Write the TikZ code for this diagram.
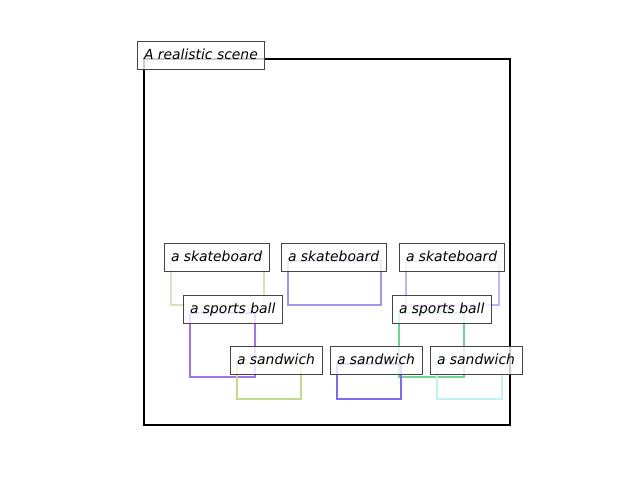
\documentclass[tikz,border=0pt]{standalone}
\usepackage{fontspec}
\setmainfont{DejaVu Sans}
\definecolor{cskA}{HTML}{E2DCBE}
\definecolor{cskB}{HTML}{A595E8}
\definecolor{cskC}{HTML}{C3B2F5}
\definecolor{csbA}{HTML}{A374E6}
\definecolor{csbB}{HTML}{6ED68C}
\definecolor{cswA}{HTML}{C3D98F}
\definecolor{cswB}{HTML}{7F6BF0}
\definecolor{cswC}{HTML}{BFF3F3}
\definecolor{lbledge}{HTML}{444444}
\tikzset{
  bbox/.style={line width=2pt},
  lbl/.style={anchor=text, draw=lbledge, line width=1pt, fill=white, fill opacity=0.8, text opacity=1,
    inner sep=7pt, text height=11pt, text depth=3pt, font=\fontsize{13.9}{16}\selectfont\itshape},
}
\begin{document}
\begin{tikzpicture}[x=1pt,y=-1pt]
\useasboundingbox (0,0) rectangle (640,480);
\draw[line width=2pt] (144,59) rectangle (510,425);
% boxes
\draw[bbox,cskA] (171,261) rectangle (264,305);
\draw[bbox,cskB] (288,261) rectangle (381,305);
\draw[bbox,cskC] (406,261) rectangle (499,305);
\draw[bbox,csbA] (190,313) rectangle (255,377);
\draw[bbox,csbB] (399,313) rectangle (464,377);
\draw[bbox,cswA] (237,364) rectangle (301,399);
\draw[bbox,cswB] (337,364) rectangle (401,399);
\draw[bbox,cswC] (437,364) rectangle (502,399);
% labels
\node[lbl] (title) at (144,59) {A realistic scene};
\node[lbl] (skA) at (171,261) {a skateboard};
\node[lbl] (skB) at (288,261) {a skateboard};
\node[lbl] (skC) at (406,261) {a skateboard};
\node[lbl] (sbA) at (190,313) {a sports ball};
\node[lbl] (sbB) at (399,313) {a sports ball};
\node[lbl] (swA) at (237,364) {a sandwich};
\node[lbl] (swB) at (337,364) {a sandwich};
\node[lbl] (swC) at (437,364) {a sandwich};
\end{tikzpicture}
\end{document}
